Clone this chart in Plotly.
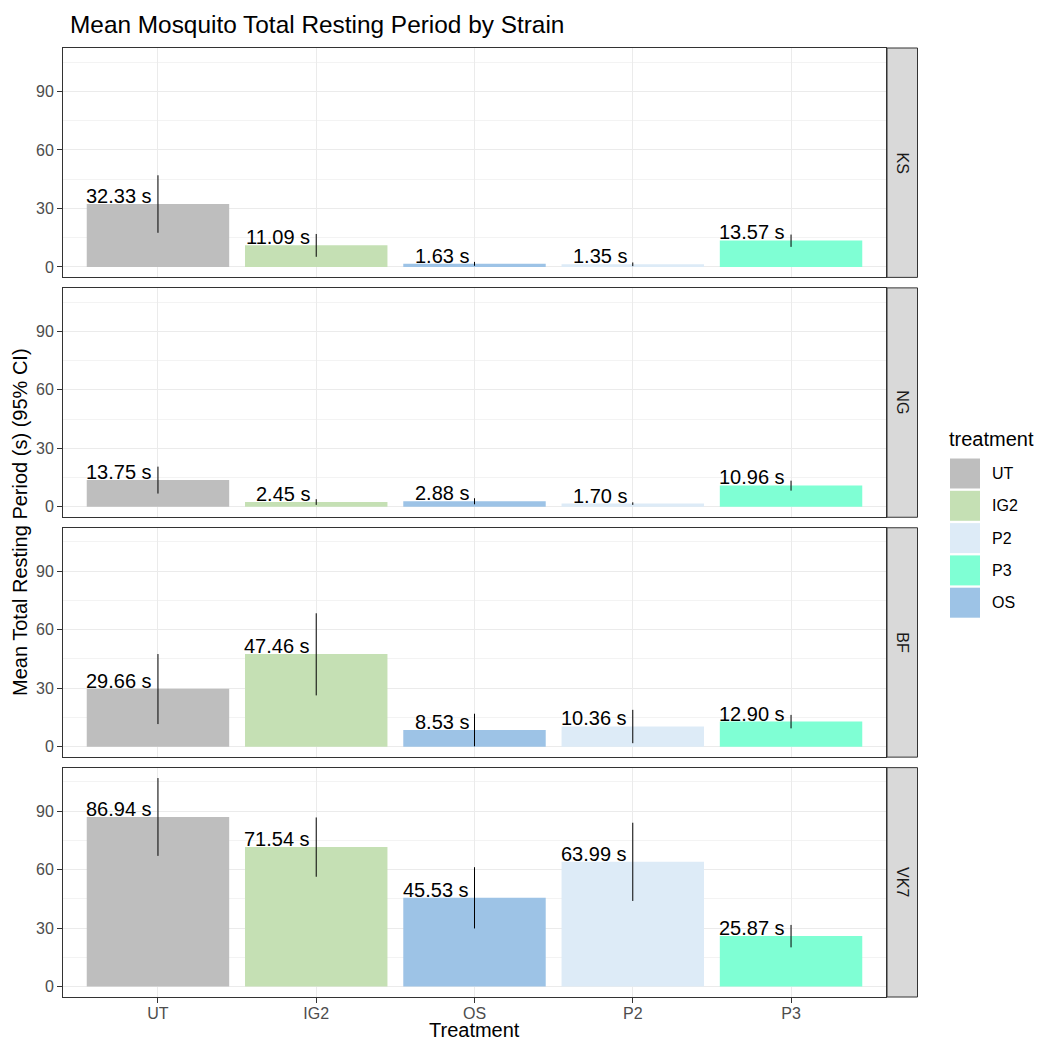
import plotly.graph_objects as go
from plotly.subplots import make_subplots

# ---------------- data ----------------
strains = ["KS", "NG", "BF", "VK7"]
treatments = ["UT", "IG2", "OS", "P2", "P3"]
legend_order = ["UT", "IG2", "P2", "P3", "OS"]

mean_KS = [32.33, 11.09, 1.63, 1.35, 13.57]
mean_NG = [13.75, 2.45, 2.88, 1.70, 10.96]
mean_BF = [29.66, 47.46, 8.53, 10.36, 12.90]
mean_VK7 = [86.94, 71.54, 45.53, 63.99, 25.87]

lower_KS = [17.5, 5.2, 0.6, 0.4, 10.3]
lower_NG = [6.8, 1.0, 1.3, 1.0, 8.3]
lower_BF = [11.6, 26.3, 0.2, 1.8, 9.4]
lower_VK7 = [67.0, 56.3, 29.8, 43.9, 20.1]

upper_KS = [47.0, 16.9, 2.6, 2.3, 16.6]
upper_NG = [20.6, 3.9, 4.4, 2.3, 13.4]
upper_BF = [47.5, 68.4, 16.9, 18.9, 16.3]
upper_VK7 = [106.9, 86.7, 61.2, 84.0, 31.6]

y_ticks = [0, 30, 60, 90]
y_minor = [15, 45, 75, 105]

means = {"KS": mean_KS, "NG": mean_NG, "BF": mean_BF, "VK7": mean_VK7}
lowers = {"KS": lower_KS, "NG": lower_NG, "BF": lower_BF, "VK7": lower_VK7}
uppers = {"KS": upper_KS, "NG": upper_NG, "BF": upper_BF, "VK7": upper_VK7}

colors = {"UT": "#BEBEBE", "IG2": "#C5E0B4", "OS": "#9DC3E6",
          "P2": "#DDEBF7", "P3": "#7FFFD4"}

FONT = "Liberation Sans, Arial, Helvetica, sans-serif"

# ---------------- layout geometry (pixels) ----------------
W, H = 1037, 1041
L, R, T, B = 63, 151, 48, 44
PW, PH = W - L - R, H - T - B
GAP = 10.5


def px2x(px):
    return (px - L) / PW


def py2y(py):
    return (H - B - py) / PH


fig = make_subplots(rows=4, cols=1, shared_xaxes=True,
                    vertical_spacing=GAP / PH)

ymax = max(max(uppers[s]) for s in strains)
yrange = [-0.05 * ymax, ymax * 1.05]

for i, s in enumerate(strains):
    row = i + 1
    m = means[s]
    lo = lowers[s]
    up = uppers[s]
    fig.add_trace(go.Bar(
        x=treatments, y=m, width=0.9,
        marker=dict(color=[colors[t] for t in treatments], line=dict(width=0)),
        error_y=dict(type="data", symmetric=False,
                     array=[u - v for u, v in zip(up, m)],
                     arrayminus=[v - l for v, l in zip(m, lo)],
                     width=0, thickness=1, color="black"),
        showlegend=False, hoverinfo="x+y",
    ), row=row, col=1)
    xref = "x" if row == 1 else f"x{row}"
    yref = "y" if row == 1 else f"y{row}"
    for t, v in zip(treatments, m):
        fig.add_annotation(x=t, y=v, xref=xref, yref=yref,
                           text=f"{v:.2f} s", showarrow=False,
                           xanchor="right", yanchor="bottom",
                           xshift=-4, yshift=-5,
                           font=dict(family=FONT, size=20, color="black"))

    fig.update_yaxes(row=row, col=1, range=yrange, tickvals=y_ticks,
                     ticks="outside", ticklen=5, tickcolor="#333333", tickwidth=1,
                     tickfont=dict(family=FONT, size=16, color="#4D4D4D"),
                     showgrid=True, gridcolor="#EBEBEB", gridwidth=1.3,
                     minor=dict(tickvals=y_minor, showgrid=True,
                                gridcolor="#F3F3F3", gridwidth=1, ticks=""),
                     showline=True, mirror=True, linecolor="#333333", linewidth=1,
                     zeroline=False)
    fig.update_xaxes(row=row, col=1, range=[-0.6, 4.6],
                     categoryorder="array", categoryarray=treatments,
                     showgrid=True, gridcolor="#EBEBEB", gridwidth=1.3,
                     showline=True, mirror=True, linecolor="#333333", linewidth=1,
                     ticks="outside" if row == 4 else "", ticklen=5,
                     tickcolor="#333333", tickwidth=1,
                     showticklabels=(row == 4),
                     tickfont=dict(family=FONT, size=16, color="#4D4D4D"),
                     zeroline=False)

    # facet strip on right
    dom = fig.layout[f"yaxis{'' if row == 1 else row}"].domain
    fig.add_shape(type="rect", xref="paper", yref="paper",
                  x0=px2x(887), x1=px2x(917.5), y0=dom[0], y1=dom[1],
                  fillcolor="#D9D9D9", line=dict(color="#333333", width=1),
                  layer="above")
    fig.add_annotation(xref="paper", yref="paper", x=px2x(902.2),
                       y=(dom[0] + dom[1]) / 2, text=s, textangle=90,
                       showarrow=False, xanchor="center", yanchor="middle",
                       font=dict(family=FONT, size=16, color="#1A1A1A"))

fig.update_xaxes(row=4, col=1, ticklabelstandoff=-3)

# ---------------- manual legend ----------------
fig.add_annotation(xref="paper", yref="paper", x=px2x(947), y=py2y(438.5),
                   text="treatment", showarrow=False, xanchor="left",
                   yanchor="middle", font=dict(family=FONT, size=20, color="black"))
key_top = 458.5
key_step = 32.3
for k, t in enumerate(legend_order):
    y0 = key_top + k * key_step
    fig.add_shape(type="rect", xref="paper", yref="paper",
                  x0=px2x(950), x1=px2x(980), y0=py2y(y0 + 30), y1=py2y(y0),
                  fillcolor=colors[t], line=dict(width=0))
    fig.add_annotation(xref="paper", yref="paper", x=px2x(990), y=py2y(y0 + 15),
                       text=t, showarrow=False, xanchor="left", yanchor="middle",
                       font=dict(family=FONT, size=16, color="black"))

# ---------------- titles ----------------
fig.add_annotation(xref="paper", yref="paper", x=0.5, y=py2y(1030),
                   text="Treatment", showarrow=False, xanchor="center",
                   yanchor="middle", borderpad=0,
                   font=dict(family=FONT, size=20, color="black"))
fig.add_annotation(xref="paper", yref="paper", x=px2x(20), y=py2y(522),
                   text="Mean Total Resting Period (s) (95% CI)", textangle=-90,
                   showarrow=False, xanchor="center", yanchor="middle",
                   font=dict(family=FONT, size=20, color="black"))

fig.update_layout(
    width=W, height=H, autosize=False,
    margin=dict(l=L, r=R, t=T, b=B),
    paper_bgcolor="white", plot_bgcolor="white",
    title=dict(text="Mean Mosquito Total Resting Period by Strain",
               x=70 / W, xanchor="left", xref="container",
               y=1 - 24 / H, yanchor="middle", yref="container",
               font=dict(family=FONT, size=24.4, color="black")),
    bargap=0.1, showlegend=False,
)

fig.write_html("out.html",
               config={"displayModeBar": False},
               post_script="document.body.style.margin='0';"
                           "document.body.style.overflow='hidden';")
